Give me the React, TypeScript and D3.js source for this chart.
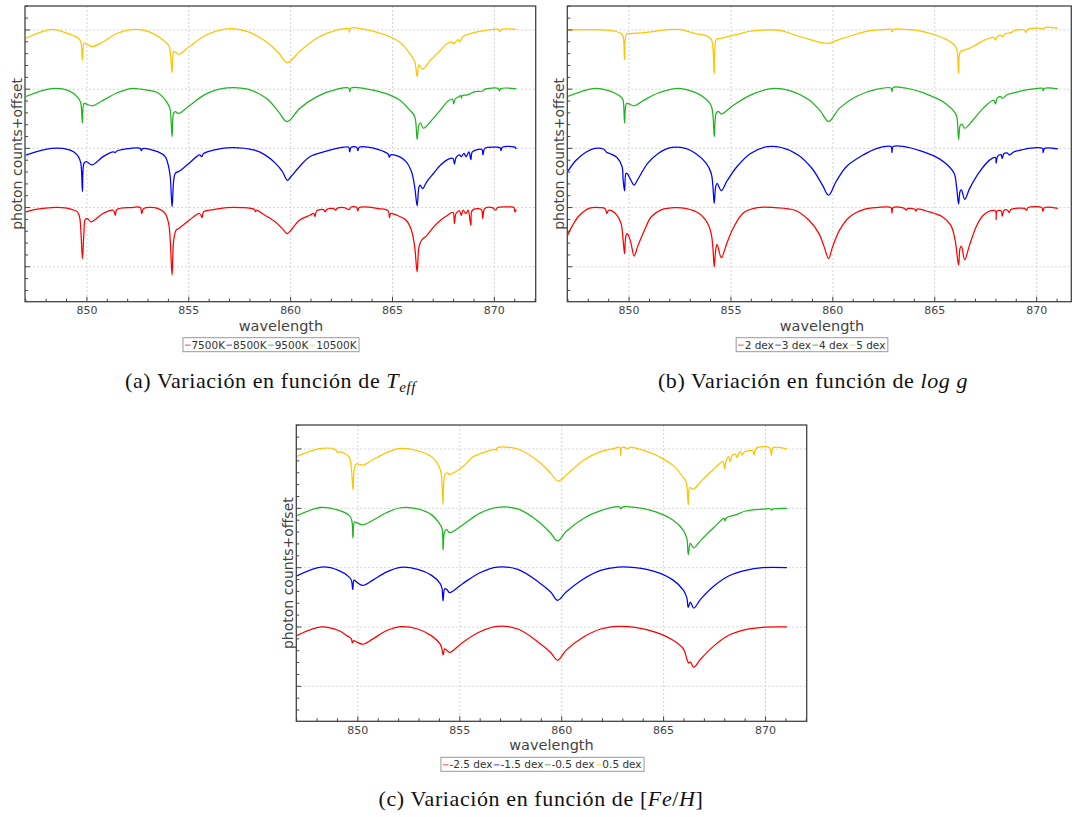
import React from 'react';
import * as d3 from 'd3';

type Pt = [number, number];

// ---------- data (wavelength [nm], normalised flux; each spectrum offset by +1) ----------
const offsets = [0, 1, 2, 3];
const seriesColors = ['#ff0000', '#0000ff', '#1fb51f', '#ffc400'];
const legendColors = ['#ff8080', '#8080ff', '#80d480', '#ffe080'];
const teffLabels = ['7500K', '8500K', '9500K', '10500K'];
const loggLabels = ['2 dex', '3 dex', '4 dex', '5 dex'];
const fehLabels = ['-2.5 dex', '-1.5 dex', '-0.5 dex', '0.5 dex'];
const xTickValues = [850, 855, 860, 865, 870];

const teff7500: Pt[] = [[847.0,0.927],[847.41,0.966],[848.26,1.0],[849.02,0.99],[849.27,0.966],[849.53,0.927],[849.64,0.84],[849.71,0.56],[849.78,0.138],[849.85,0.56],[849.92,0.80],[850.03,0.814],[850.2,0.758],[850.79,0.90],[851.3,0.955],[851.39,0.87],[851.47,0.966],[852.15,1.0],[852.62,1.0],[852.69,0.90],[852.79,0.983],[853.5,0.983],[853.84,0.90],[854.01,0.73],[854.09,0.45],[854.18,-0.14],[854.26,0.45],[854.38,0.62],[854.51,0.645],[855.02,0.786],[855.53,0.90],[855.65,0.83],[855.73,0.93],[856.2,0.966],[856.88,1.0],[857.56,1.0],[858.23,0.966],[858.27,0.93],[858.32,0.955],[858.74,0.87],[859.25,0.758],[859.59,0.645],[859.84,0.56],[860.01,0.617],[860.43,0.786],[860.94,0.87],[861.14,0.90],[861.19,0.85],[861.28,0.944],[861.61,0.966],[861.7,0.93],[861.78,0.97],[862.12,0.983],[862.21,0.955],[862.29,0.99],[862.63,1.0],[862.88,0.966],[862.97,1.01],[863.24,1.0],[863.3,0.944],[863.37,1.0],[864.32,0.983],[864.79,0.944],[864.85,0.83],[864.91,0.9],[865.33,0.853],[865.67,0.786],[865.93,0.617],[866.09,0.335],[866.21,-0.087],[866.3,0.335],[866.43,0.448],[866.69,0.53],[867.02,0.673],[867.36,0.786],[867.7,0.87],[867.97,0.92],[868.04,0.73],[868.12,0.9],[868.29,0.944],[868.38,0.87],[868.46,0.955],[868.61,0.9],[868.71,0.955],[868.85,0.7],[868.92,0.955],[869.36,0.966],[869.43,0.814],[869.53,0.983],[869.9,1.0],[870.07,0.955],[870.15,1.0],[870.74,1.01],[870.96,1.0],[871.01,0.927],[871.08,0.966]];
const teff8500: Pt[] = [[847.0,0.887],[848.26,1.0],[849.1,0.98],[849.36,0.94],[849.58,0.86],[849.7,0.75],[849.78,0.27],[849.86,0.75],[849.98,0.775],[850.25,0.72],[850.79,0.86],[851.3,0.94],[851.39,0.93],[851.47,0.955],[852.15,1.0],[852.62,1.0],[852.67,0.96],[852.74,0.995],[853.5,0.94],[853.84,0.86],[854.01,0.69],[854.09,0.52],[854.18,0.015],[854.26,0.46],[854.34,0.58],[854.51,0.61],[855.02,0.75],[855.53,0.89],[855.63,0.86],[855.73,0.915],[856.2,0.97],[856.88,1.01],[858.23,0.97],[858.74,0.89],[859.25,0.75],[859.59,0.61],[859.84,0.46],[860.01,0.52],[860.43,0.69],[860.94,0.86],[861.61,0.94],[862.63,1.02],[862.85,1.02],[862.9,0.94],[862.97,1.02],[863.24,1.02],[863.3,0.96],[863.37,1.02],[864.32,0.98],[864.79,0.9],[864.85,0.85],[864.91,0.89],[865.33,0.86],[865.67,0.775],[865.93,0.61],[866.09,0.35],[866.21,0.03],[866.3,0.35],[866.36,0.38],[866.48,0.32],[866.69,0.44],[867.02,0.58],[867.36,0.72],[867.7,0.81],[867.97,0.83],[868.04,0.735],[868.12,0.845],[868.29,0.89],[868.38,0.86],[868.51,0.915],[868.61,0.86],[868.75,0.94],[868.85,0.81],[868.92,0.94],[869.39,0.98],[869.44,0.89],[869.53,1.0],[870.07,1.02],[870.29,1.01],[870.32,0.96],[870.39,1.02],[871.0,1.02],[871.08,0.99]];
const teff9500: Pt[] = [[847.0,0.876],[848.26,1.01],[849.1,0.975],[849.58,0.85],[849.7,0.76],[849.78,0.43],[849.86,0.76],[850.03,0.74],[850.29,0.72],[850.79,0.81],[851.47,0.935],[852.15,1.01],[852.65,1.0],[853.5,0.935],[854.01,0.73],[854.09,0.65],[854.18,0.2],[854.26,0.6],[854.34,0.62],[854.51,0.59],[855.02,0.72],[855.86,0.92],[856.88,1.02],[857.9,1.0],[858.4,0.93],[858.9,0.82],[859.4,0.62],[859.84,0.45],[860.43,0.67],[861.27,0.87],[862.29,1.0],[862.85,1.02],[862.9,0.96],[862.97,1.02],[863.64,1.01],[864.65,0.93],[865.33,0.82],[865.84,0.65],[866.09,0.54],[866.21,0.15],[866.3,0.4],[866.38,0.425],[866.52,0.34],[866.86,0.45],[867.36,0.65],[867.7,0.79],[867.95,0.83],[868.0,0.75],[868.07,0.83],[868.21,0.865],[868.35,0.89],[868.38,0.85],[868.42,0.89],[868.63,0.9],[868.8,0.92],[869.05,0.96],[869.44,0.97],[869.53,1.0],[870.2,1.01],[870.25,0.97],[870.32,1.01],[871.08,1.005]];
const teff10500: Pt[] = [[847.0,0.86],[848.26,1.01],[848.93,0.955],[849.58,0.86],[849.7,0.8],[849.78,0.49],[849.86,0.775],[850.03,0.75],[850.29,0.72],[850.79,0.8],[851.47,0.94],[852.32,1.01],[853.0,0.975],[853.84,0.8],[854.04,0.72],[854.18,0.28],[854.26,0.634],[854.38,0.617],[854.51,0.59],[855.02,0.718],[855.86,0.915],[856.88,1.02],[857.9,0.972],[858.4,0.89],[858.9,0.775],[859.42,0.606],[859.84,0.45],[860.43,0.634],[861.28,0.859],[862.29,1.0],[862.85,1.02],[862.88,0.96],[862.93,1.03],[863.64,1.01],[864.66,0.915],[865.33,0.8],[865.84,0.606],[866.09,0.465],[866.21,0.21],[866.3,0.41],[866.48,0.335],[866.86,0.49],[867.36,0.66],[867.7,0.775],[867.95,0.79],[868.0,0.76],[868.21,0.84],[868.29,0.8],[868.46,0.89],[869.05,0.96],[869.53,0.99],[870.2,1.01],[870.25,0.97],[870.35,1.01],[871.08,1.01]];

const logg2: Pt[] = [[846.98,0.53],[847.23,0.7],[847.57,0.87],[848.07,0.99],[848.57,1.0],[848.82,0.985],[848.91,0.9],[848.99,0.955],[849.16,0.944],[849.41,0.87],[849.61,0.73],[849.71,0.45],[849.78,0.22],[849.85,0.53],[849.92,0.56],[850.08,0.42],[850.25,0.18],[850.42,0.34],[850.76,0.62],[851.09,0.845],[851.6,0.966],[852.27,1.0],[852.77,0.985],[853.44,0.9],[853.86,0.73],[854.03,0.56],[854.11,0.34],[854.18,0.0],[854.25,0.28],[854.32,0.38],[854.53,0.155],[854.79,0.39],[855.12,0.66],[855.63,0.915],[856.3,1.0],[857.14,1.0],[858.14,0.955],[858.82,0.79],[859.32,0.56],[859.57,0.34],[859.79,0.14],[859.99,0.34],[860.33,0.62],[860.83,0.845],[861.5,0.966],[862.17,1.0],[862.85,1.0],[862.9,0.91],[862.96,1.0],[863.52,0.985],[863.6,0.955],[863.68,0.985],[864.02,0.97],[864.08,0.94],[864.14,0.975],[864.69,0.93],[865.37,0.845],[865.79,0.7],[866.0,0.45],[866.17,0.03],[866.24,0.31],[866.31,0.35],[866.47,0.12],[866.71,0.37],[867.05,0.69],[867.38,0.87],[867.72,0.944],[867.98,0.944],[868.01,0.8],[868.06,0.944],[868.26,0.944],[868.31,0.854],[868.4,0.955],[868.57,0.955],[868.65,0.915],[868.74,0.966],[869.41,0.985],[869.5,0.955],[869.58,1.0],[870.25,1.0],[870.3,0.94],[870.39,1.0],[871.04,0.985]];
const logg3: Pt[] = [[846.98,0.605],[847.4,0.8],[847.9,0.94],[848.32,1.0],[848.74,0.99],[848.91,0.93],[849.08,0.91],[849.41,0.845],[849.66,0.69],[849.71,0.47],[849.78,0.28],[849.85,0.58],[849.92,0.57],[850.08,0.47],[850.25,0.38],[850.42,0.47],[850.92,0.75],[851.43,0.915],[852.1,1.015],[852.77,1.0],[853.27,0.915],[853.78,0.75],[854.03,0.58],[854.11,0.38],[854.18,0.07],[854.25,0.35],[854.32,0.41],[854.53,0.285],[854.79,0.44],[855.29,0.69],[855.96,0.915],[856.8,1.03],[857.47,1.015],[858.31,0.885],[858.98,0.66],[859.49,0.38],[859.79,0.21],[860.16,0.44],[860.66,0.69],[861.5,0.89],[862.17,1.0],[862.85,1.03],[862.9,0.93],[862.96,1.03],[863.52,1.03],[864.19,0.97],[865.03,0.86],[865.53,0.75],[865.95,0.58],[866.07,0.35],[866.17,0.06],[866.24,0.27],[866.31,0.3],[866.47,0.14],[866.71,0.32],[867.21,0.61],[867.72,0.81],[867.98,0.845],[868.01,0.75],[868.09,0.87],[868.26,0.89],[868.31,0.83],[868.4,0.915],[868.57,0.92],[868.65,0.89],[868.91,0.944],[869.41,0.985],[869.58,1.0],[870.29,1.0],[870.31,0.93],[870.39,1.0],[871.04,0.99]];
const logg4: Pt[] = [[846.98,0.876],[848.24,1.01],[848.91,0.985],[849.58,0.876],[849.7,0.82],[849.78,0.43],[849.87,0.76],[850.0,0.75],[850.25,0.72],[850.76,0.82],[851.43,0.935],[852.27,1.01],[852.77,0.995],[853.61,0.876],[854.03,0.72],[854.18,0.2],[854.28,0.6],[854.4,0.62],[854.53,0.58],[855.12,0.73],[855.96,0.9],[856.97,1.01],[857.81,0.985],[858.82,0.82],[859.4,0.625],[859.79,0.455],[860.33,0.68],[861.17,0.88],[862.17,1.0],[862.85,1.02],[862.9,0.96],[862.96,1.03],[863.52,1.02],[864.69,0.905],[865.53,0.76],[866.0,0.6],[866.09,0.52],[866.17,0.15],[866.25,0.39],[866.34,0.41],[866.47,0.34],[866.88,0.48],[867.38,0.68],[867.89,0.815],[867.98,0.75],[868.06,0.845],[868.23,0.876],[868.31,0.845],[868.57,0.91],[868.91,0.94],[869.41,0.985],[870.08,1.015],[870.29,1.015],[870.31,0.975],[870.39,1.015],[871.04,1.005]];
const logg5: Pt[] = [[846.98,1.0],[848.74,1.0],[849.41,0.97],[849.61,0.94],[849.71,0.89],[849.78,0.5],[849.87,0.93],[850.08,0.94],[850.76,0.955],[851.76,1.0],[852.43,1.01],[853.27,0.94],[853.86,0.89],[854.05,0.83],[854.18,0.26],[854.28,0.84],[854.45,0.855],[854.79,0.885],[855.46,0.94],[855.79,0.97],[856.8,1.0],[857.47,0.99],[858.14,0.915],[858.82,0.845],[859.32,0.795],[859.79,0.775],[860.16,0.82],[861.0,0.915],[861.84,0.99],[862.68,1.01],[862.85,1.015],[862.9,0.97],[862.98,1.01],[863.52,1.01],[864.19,0.99],[865.03,0.915],[865.53,0.845],[865.95,0.75],[866.09,0.66],[866.17,0.27],[866.25,0.63],[866.46,0.66],[866.88,0.72],[867.38,0.82],[867.89,0.875],[867.98,0.83],[868.06,0.885],[868.23,0.915],[868.31,0.885],[868.48,0.94],[868.74,0.955],[868.91,0.99],[869.41,1.0],[869.46,0.96],[869.58,1.01],[870.08,1.03],[870.34,1.02],[870.42,1.045],[871.04,1.03]];

const fehM25: Pt[] = [[846.97,0.85],[848.21,1.0],[849.05,0.94],[849.48,0.85],[849.68,0.8],[849.73,0.73],[849.8,0.77],[849.9,0.755],[850.24,0.71],[850.74,0.8],[851.42,0.94],[852.1,1.006],[852.94,0.966],[853.62,0.85],[854.04,0.71],[854.13,0.62],[854.18,0.53],[854.26,0.63],[854.33,0.62],[854.5,0.57],[855.14,0.74],[855.99,0.92],[856.84,1.01],[857.85,0.966],[858.87,0.74],[859.46,0.57],[859.8,0.44],[860.22,0.61],[861.07,0.83],[861.91,0.966],[862.76,1.01],[863.6,0.994],[864.62,0.91],[865.47,0.775],[865.97,0.63],[866.14,0.46],[866.23,0.39],[866.31,0.41],[866.48,0.32],[866.82,0.46],[867.5,0.69],[868.19,0.86],[869.02,0.955],[869.86,0.994],[871.05,1.0]];
const fehM15: Pt[] = [[846.97,0.855],[848.21,1.01],[849.05,0.955],[849.56,0.845],[849.68,0.79],[849.75,0.63],[849.81,0.79],[849.93,0.76],[850.24,0.7],[850.74,0.79],[851.42,0.93],[852.1,1.006],[852.94,0.97],[853.62,0.87],[854.04,0.73],[854.13,0.645],[854.18,0.44],[854.26,0.645],[854.37,0.63],[854.5,0.58],[855.14,0.73],[855.99,0.915],[856.84,1.01],[857.85,0.97],[858.87,0.755],[859.46,0.59],[859.8,0.45],[860.22,0.59],[861.07,0.81],[861.91,0.955],[862.76,1.01],[863.6,1.0],[864.62,0.93],[865.47,0.79],[865.97,0.62],[866.14,0.49],[866.21,0.33],[866.31,0.42],[866.48,0.32],[866.82,0.47],[867.5,0.7],[868.19,0.86],[869.02,0.955],[869.86,1.0],[871.05,1.0]];
const fehM05: Pt[] = [[846.97,0.87],[848.21,1.017],[849.05,0.97],[849.56,0.885],[849.7,0.8],[849.76,0.5],[849.83,0.77],[849.93,0.76],[850.24,0.72],[850.74,0.8],[851.42,0.93],[852.1,1.01],[852.94,0.99],[853.62,0.89],[853.99,0.75],[854.13,0.66],[854.18,0.3],[854.26,0.61],[854.37,0.64],[854.5,0.59],[855.14,0.72],[855.99,0.92],[856.84,1.017],[857.85,0.99],[858.87,0.775],[859.46,0.58],[859.8,0.45],[860.22,0.61],[861.07,0.83],[861.91,0.96],[862.76,1.03],[862.85,1.02],[862.89,0.99],[862.96,1.02],[863.6,1.017],[864.62,0.94],[865.47,0.8],[865.97,0.63],[866.14,0.49],[866.21,0.22],[866.31,0.41],[866.48,0.335],[866.82,0.46],[867.5,0.69],[867.97,0.83],[868.01,0.79],[868.1,0.845],[868.53,0.89],[869.02,0.955],[869.86,0.985],[870.25,0.99],[870.29,0.97],[870.37,0.99],[871.05,1.0]];
const fehP05: Pt[] = [[846.97,0.87],[848.21,1.01],[848.88,0.994],[849.0,0.94],[849.1,0.955],[849.56,0.87],[849.68,0.68],[849.76,0.31],[849.83,0.68],[849.93,0.75],[850.24,0.73],[850.74,0.82],[851.42,0.94],[852.1,1.01],[852.94,0.97],[853.62,0.87],[853.99,0.7],[854.09,0.58],[854.18,0.065],[854.26,0.56],[854.37,0.6],[854.5,0.57],[855.14,0.7],[855.65,0.87],[855.99,0.92],[856.75,0.994],[856.79,0.978],[856.84,1.02],[857.85,1.0],[858.87,0.79],[859.46,0.59],[859.83,0.46],[860.22,0.56],[861.07,0.81],[861.91,0.955],[862.59,1.01],[862.84,1.03],[862.89,0.89],[862.96,1.03],[863.27,1.01],[863.35,1.03],[863.94,0.985],[864.62,0.9],[864.79,0.87],[865.47,0.72],[865.97,0.52],[866.11,0.44],[866.21,0.065],[866.28,0.35],[866.45,0.32],[866.82,0.45],[867.33,0.62],[867.67,0.73],[867.92,0.79],[867.99,0.66],[868.06,0.79],[868.19,0.87],[868.27,0.79],[868.36,0.89],[868.53,0.91],[868.6,0.855],[868.69,0.93],[868.77,0.955],[868.85,0.9],[868.98,0.955],[869.36,0.97],[869.44,0.9],[869.53,1.01],[870.2,1.02],[870.29,0.89],[870.37,1.02],[871.05,1.0]];

// ---------- layout ----------
const Y_MIN = -0.59;
const Y_MAX = 4.405;
const FONT = "'DejaVu Sans', Verdana, sans-serif";
const SERIF = "'Liberation Serif', 'Times New Roman', serif";

interface PanelSpec {
  id: string;
  left: number; top: number; right: number; bottom: number;
  xMin: number; xMax: number;
  yLabelX: number; xLabelX: number; legendX: number;
  labels: string[];
  series: Pt[][];
}

let ctx: CanvasRenderingContext2D | null = null;
function textWidth(t: string, font: string): number {
  if (!ctx) ctx = document.createElement('canvas').getContext('2d');
  if (!ctx) return t.length * 6;
  ctx.font = font;
  return ctx.measureText(t).width;
}

function Panel({ s }: { s: PanelSpec }) {
  const x = d3.scaleLinear().domain([s.xMin, s.xMax]).range([s.left, s.right]);
  const y = d3.scaleLinear().domain([Y_MIN, Y_MAX]).range([s.bottom, s.top]);
  const xMinor = x.ticks(25).filter(v => Math.abs(v - Math.round(v)) < 1e-6);
  const yMinor = y.ticks(25);
  const yMajor = yMinor.filter(v => Math.abs(v - Math.round(v)) < 1e-6);
  const frame = '#444';

  const legFont = `10.5px ${FONT}`;
  const items = s.labels.map(l => ({ l, w: textWidth(l, legFont) }));
  const itemW = items.map(it => 7 + it.w + 1);
  const total = d3.sum(itemW) + 3;
  const lx0 = s.legendX - total / 2;
  const ly = s.bottom + 36;
  let cur = lx0 + 2;
  const legendItems = items.map((it, i) => {
    const x0 = cur;
    cur += itemW[i];
    return { ...it, x0, i };
  });

  return (
    <g>
      <defs>
        <clipPath id={`clip-${s.id}`}>
          <rect x={s.left} y={s.top} width={s.right - s.left} height={s.bottom - s.top} />
        </clipPath>
      </defs>
      {/* grid */}
      <g stroke="#d4d4d4" strokeWidth={1} strokeDasharray="2,2">
        {xTickValues.map(v => (
          <line key={'gx' + v} x1={x(v)} x2={x(v)} y1={s.top} y2={s.bottom} />
        ))}
        {yMajor.map(v => (
          <line key={'gy' + v} x1={s.left} x2={s.right} y1={y(v)} y2={y(v)} />
        ))}
      </g>
      {/* spectra */}
      <g clipPath={`url(#clip-${s.id})`} fill="none" strokeWidth={1.25} strokeLinejoin="round">
        {s.series.map((pts, i) => {
          const line = d3.line<Pt>()
            .x(d => x(d[0]))
            .y(d => y(d[1] + offsets[i]))
            .curve(d3.curveCatmullRom.alpha(0.5));
          return <path key={i} d={line(pts) || ''} stroke={seriesColors[i]} />;
        })}
      </g>
      {/* ticks */}
      <g stroke={frame} strokeWidth={1}>
        {xMinor.map(v => {
          const major = Math.round(v) % 5 === 0;
          return <line key={'tx' + v} x1={x(v)} x2={x(v)} y1={s.bottom} y2={s.bottom - (major ? 5 : 3)} />;
        })}
        {yMinor.map(v => {
          const major = Math.abs(v - Math.round(v)) < 1e-6;
          return <line key={'ty' + v} x1={s.left} x2={s.left + (major ? 5 : 3)} y1={y(v)} y2={y(v)} />;
        })}
      </g>
      <rect x={s.left} y={s.top} width={s.right - s.left} height={s.bottom - s.top}
        fill="none" stroke={frame} strokeWidth={1.3} />
      {/* tick labels */}
      <g fontFamily={FONT} fontSize={11} fill="#444" textAnchor="middle">
        {xTickValues.map(v => (
          <text key={'lx' + v} x={x(v)} y={s.bottom + 12.5}>{v}</text>
        ))}
      </g>
      {/* axis titles */}
      <text x={s.xLabelX} y={s.bottom + 29} fontFamily={FONT} fontSize={14.5} fill="#444" textAnchor="middle">wavelength</text>
      <text transform={`translate(${s.yLabelX},${(s.top + s.bottom) / 2}) rotate(-90)`} fontFamily={FONT}
        fontSize={14} fill="#444" textAnchor="middle" dy="0.35em">photon counts+offset</text>
      {/* legend */}
      <rect x={lx0} y={ly} width={total} height={14} fill="#fff" stroke="#999" strokeWidth={1} />
      {legendItems.map(it => (
        <g key={it.l}>
          <line x1={it.x0} x2={it.x0 + 5.5} y1={ly + 7.5} y2={ly + 7.5} stroke={legendColors[it.i]} strokeWidth={1.5} />
          <text x={it.x0 + 6.5} y={ly + 11} fontFamily={FONT} fontSize={10.5} fill="#333">{it.l}</text>
        </g>
      ))}
    </g>
  );
}

const panels: PanelSpec[] = [
  { id: 'a', left: 25, top: 6, right: 535.7, bottom: 301.7, xMin: 846.96, xMax: 872.03,
    yLabelX: 17, xLabelX: 281, legendX: 271, labels: teffLabels,
    series: [teff7500, teff8500, teff9500, teff10500] },
  { id: 'b', left: 567.3, top: 6, right: 1071.3, bottom: 301.7, xMin: 846.97, xMax: 871.70,
    yLabelX: 559, xLabelX: 822, legendX: 812, labels: loggLabels,
    series: [logg2, logg3, logg4, logg5] },
  { id: 'c', left: 296.3, top: 425, right: 806.7, bottom: 721.3, xMin: 846.98, xMax: 872.02,
    yLabelX: 288, xLabelX: 551.5, legendX: 542.5, labels: fehLabels,
    series: [fehM25, fehM15, fehM05, fehP05] },
];

export default function App() {
  const capStyle = { fontFamily: SERIF, fontSize: 22, fill: '#111', letterSpacing: 0.6 } as React.CSSProperties;
  return (
    <svg width={1072} height={817} viewBox="0 0 1072 817"
      style={{ position: 'absolute', left: 0, top: 0, background: '#fff' }}>
      <rect x={0} y={0} width={1072} height={817} fill="#fff" />
      {panels.map(p => <Panel key={p.id} s={p} />)}
      <text x={270.5} y={388} textAnchor="middle" style={capStyle}>
        (a) Variación en función de <tspan fontStyle="italic">T</tspan>
        <tspan fontStyle="italic" fontSize={15} dy={4}>eff</tspan>
      </text>
      <text x={813} y={388} textAnchor="middle" style={capStyle}>
        (b) Variación en función de <tspan fontStyle="italic">log g</tspan>
      </text>
      <text x={541} y={806} textAnchor="middle" style={capStyle}>
        (c) Variación en función de [<tspan fontStyle="italic">Fe</tspan>/<tspan fontStyle="italic">H</tspan>]
      </text>
    </svg>
  );
}
